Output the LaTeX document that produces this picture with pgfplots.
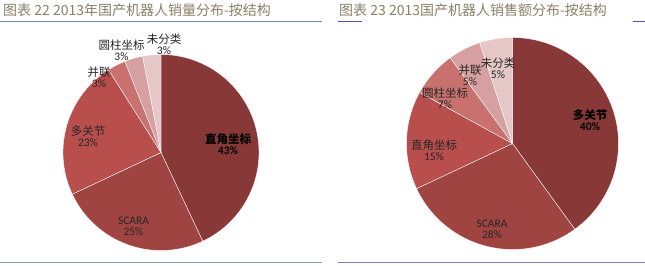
\documentclass[border=0pt]{standalone}
\usepackage{pgfplots}
\usepackage{pgfplotstable}
\pgfplotsset{compat=1.18}
\usepackage{fontspec}
\newfontfamily\cjk{Noto Sans CJK SC}
\newfontfamily\lat{Carlito}

\definecolor{sl0}{HTML}{893838}
\definecolor{sl1}{HTML}{A04442}
\definecolor{sl2}{HTML}{B84F4C}
\definecolor{sl3}{HTML}{C8716E}
\definecolor{sl4}{HTML}{D7A0A0}
\definecolor{sl5}{HTML}{E5C7C8}
\definecolor{titlec}{HTML}{8A7F68}
\definecolor{lineA}{HTML}{6A8BB0}
\definecolor{lineB}{HTML}{4C52A8}
\definecolor{botA}{HTML}{7EA2B8}
\definecolor{botB}{HTML}{8080C0}
\definecolor{lab}{HTML}{262626}

\pgfplotstableread{
pct
43
25
23
3
3
3
}\pieA
\pgfplotstableread{
pct
40
28
15
7
5
5
}\pieB

% draw a pie from a table: #1 table, #2 cx, #3 cy, #4 radius
\newcommand\drawpie[4]{%
  \gdef\cum{0}%
  \pgfplotstableforeachcolumnelement{pct}\of#1\as\v{%
    \pgfmathsetmacro\sa{90-3.6*\cum}%
    \pgfmathsetmacro\sb{90-3.6*(\cum+\v)}%
    \edef\tmp{\noexpand\addplot[fill=sl\pgfplotstablerow, draw=white, line width=0.35pt, domain=\sb:\sa, samples=90] ({#2+#4*cos(x)},{#3+#4*sin(x)}) -- (#2,#3) -- cycle;}%
    \tmp
    \pgfmathsetmacro\cc{\cum+\v}\xdef\cum{\cc}%
  }%
}

\newcommand\cn[1]{{\cjk\fontsize{11.5}{12}\selectfont #1}}
\newcommand\pc[1]{{\lat\fontsize{11.5}{12}\selectfont #1}}
\newcommand\cnb[1]{{\cjk\bfseries\fontsize{11.5}{12}\selectfont #1}}
\newcommand\pcb[1]{{\lat\bfseries\fontsize{11.5}{12}\selectfont #1}}

\begin{document}
\begin{tikzpicture}
\useasboundingbox (0,0) rectangle (645pt,265pt);
\begin{axis}[at={(0,0)}, anchor=south west, scale only axis,
  width=645pt, height=265pt, xmin=0, xmax=645, ymin=0, ymax=265,
  hide axis, clip=false]

\drawpie{\pieA}{161}{112.5}{98}
\drawpie{\pieB}{512.5}{121.5}{106}

% titles
\node[anchor=base west, text=titlec, inner sep=0pt, font=\cjk\fontsize{14}{14}\selectfont] at (axis cs:3,249) {图表 22 2013年国产机器人销量分布-按结构};
\node[anchor=base west, text=titlec, inner sep=0pt, font=\cjk\fontsize{14}{14}\selectfont] at (axis cs:339,249) {图表 23 2013国产机器人销售额分布-按结构};

\draw[lineA, line width=1pt] (axis cs:0,243.5) -- (axis cs:322,243.5);
\draw[lineB, line width=1.3pt] (axis cs:338,243.5) -- (axis cs:362,243.5);
\draw[lineB, line width=1.3pt] (axis cs:633,243.5) -- (axis cs:645,243.5);
\draw[botA, line width=1.5pt] (axis cs:0,2.5) -- (axis cs:322,2.5);
\draw[botB, line width=1.5pt] (axis cs:338,2.5) -- (axis cs:645,2.5);

% left labels
\node[text=black, align=center, inner sep=0pt] at (axis cs:228,121) {\cnb{直角坐标}\\[-1pt]\pcb{43\%}};
\node[text=lab, align=center, inner sep=0pt] at (axis cs:133.5,38.5) {\pc{SCARA}\\[-1pt]\pc{25\%}};
\node[text=lab, align=center, inner sep=0pt] at (axis cs:88,128.5) {\cn{多关节}\\[-1pt]\pc{23\%}};
\node[text=lab, align=center, inner sep=0pt] at (axis cs:99,187.5) {\cn{并联}\\[-1pt]\pc{3\%}};
\node[text=lab, align=center, inner sep=0pt] at (axis cs:121.5,215) {\cn{圆柱坐标}\\[-1pt]\pc{3\%}};
\node[text=lab, align=center, inner sep=0pt] at (axis cs:164,221) {\cn{未分类}\\[-1pt]\pc{3\%}};

% right labels
\node[text=black, align=center, inner sep=0pt] at (axis cs:590,144.5) {\cnb{多关节}\\[-1pt]\pcb{40\%}};
\node[text=lab, align=center, inner sep=0pt] at (axis cs:434,114.5) {\cn{直角坐标}\\[-1pt]\pc{15\%}};
\node[text=lab, align=center, inner sep=0pt] at (axis cs:492,36) {\pc{SCARA}\\[-1pt]\pc{28\%}};
\node[text=lab, align=center, inner sep=0pt] at (axis cs:445,167) {\cn{圆柱坐标}\\[-1pt]\pc{7\%}};
\node[text=lab, align=center, inner sep=0pt] at (axis cs:470,190) {\cn{并联}\\[-1pt]\pc{5\%}};
\node[text=lab, align=center, inner sep=0pt] at (axis cs:498,196.5) {\cn{未分类}\\[-1pt]\pc{5\%}};
\end{axis}
\end{tikzpicture}
\end{document}
